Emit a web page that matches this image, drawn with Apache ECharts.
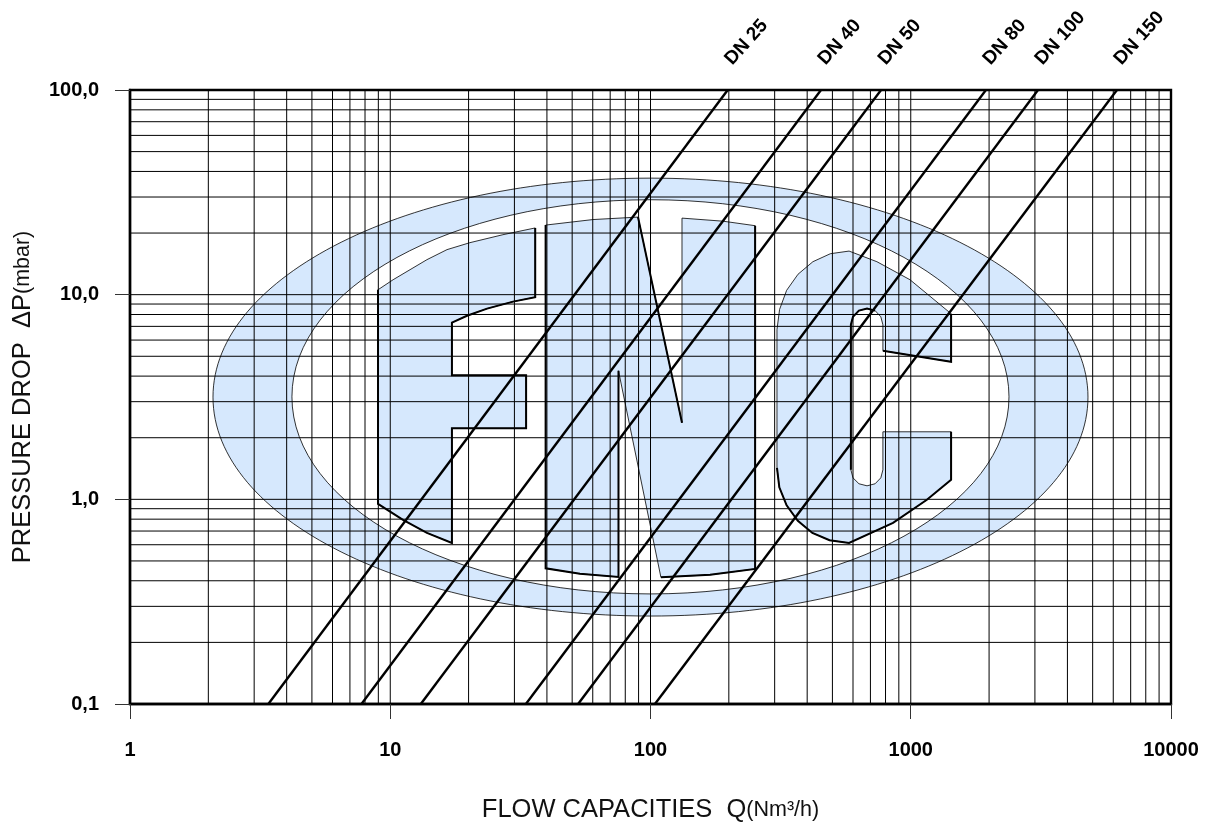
<!DOCTYPE html>
<html><head><meta charset="utf-8">
<style>html,body{margin:0;padding:0;background:#fff}#c{width:1208px;height:825px}</style>
<script src="https://cdn.jsdelivr.net/npm/echarts@6/dist/echarts.min.js"></script>
</head><body><div id="c"></div>
<script>
const xTickLabels = {1:'1',10:'10',100:'100',1000:'1000',10000:'10000'};
const yTickLabels = {0.1:'0,1',1:'1,0',10:'10,0',100:'100,0'};
const gridQ = [2,3,4,5,6,7,8,9,10,20,30,40,50,60,70,80,90,100,200,300,400,500,600,700,800,900,1000,2000,3000,4000,5000,6000,7000,8000,9000];
const gridP = [0.2,0.3,0.4,0.5,0.6,0.7,0.8,0.9,1,2,3,4,5,6,7,8,9,10,20,30,40,50,60,70,80,90];
const dnNames = ['DN 25','DN 40','DN 50','DN 80','DN 100','DN 150'];
const dnQAtBottom = [3.4,7.75,13.1,33.2,52.7,104];
const dnQAtTop = [198,452,769,1945,3083,6199];
const pBottom = 0.1, pTop = 100;
// logo rings: [minQ, maxQ, minP, maxP]
const ringOuter = [2.084,4797,0.269,37.1];
const ringInner = [4.19,2385,0.345,29.1];
// logo letters as [log10 Q, log10 P]
const letterF = [[.953,1.024],[1.011,1.073],[1.076,1.122],[1.141,1.171],[1.218,1.220],[1.306,1.254],[1.433,1.293],[1.557,1.326],[1.557,.988],[1.472,.966],[1.372,.932],[1.295,.897],[1.237,.863],[1.237,.606],[1.522,.606],[1.522,.347],[1.237,.347],[1.237,-.213],[1.141,-.164],[1.049,-.100],[.953,-.022]];
const letterN = [[1.597,1.340],[1.779,1.367],[1.952,1.379],[2.121,.374],[2.121,1.374],[2.279,1.359],[2.402,1.337],[2.402,-.340],[2.229,-.369],[2.040,-.381],[1.877,.628],[1.877,-.379],[1.729,-.364],[1.597,-.337]];
const letterC = [[2.763,1.213],[2.691,1.200],[2.624,1.161],[2.567,1.100],[2.523,1.021],[2.496,.928],[2.486,.829],[2.486,.154],[2.495,.059],[2.523,-.029],[2.566,-.105],[2.622,-.164],[2.688,-.200],[2.763,-.213],[2.932,-.115],[3.062,-.002],[3.155,.095],[3.155,.330],[2.893,.330],[2.893,.144],[2.885,.105],[2.863,.076],[2.832,.066],[2.801,.076],[2.778,.105],[2.770,.144],[2.770,.853],[2.778,.892],[2.801,.922],[2.832,.932],[2.863,.922],[2.885,.892],[2.893,.853],[2.893,.726],[3.155,.672],[3.155,.907],[2.997,1.073],[2.870,1.161]];
const heavyStrokes = [
 [[1.557,1.326],[1.557,.988],[1.472,.966],[1.372,.932],[1.295,.897],[1.237,.863],[1.237,.606],[1.522,.606],[1.522,.347],[1.237,.347],[1.237,-.213],[1.141,-.164],[1.049,-.100],[.953,-.022],[.953,1.024]],
 [[1.952,1.379],[2.121,.374]],
 [[1.877,.628],[1.877,-.379],[1.729,-.364],[1.597,-.337],[1.597,1.340]],
 [[2.402,1.337],[2.402,-.340],[2.229,-.369],[2.040,-.381]],
 [[2.486,.154],[2.495,.059],[2.523,-.029],[2.566,-.105],[2.622,-.164],[2.688,-.200],[2.763,-.213],[2.932,-.115],[3.062,-.002],[3.155,.095],[3.155,.330]],
 [[2.770,.144],[2.770,.853],[2.778,.892],[2.801,.922],[2.832,.932],[2.863,.922]],
 [[2.893,.726],[3.155,.672],[3.155,.907]]
];
const logoBlue = '#d6e8fd';
const ink = '#000';
const toData = p => [Math.pow(10,p[0]), Math.pow(10,p[1])];

function ringItem(r, fill){
  return function(params, api){
    const a = api.coord([r[0], r[3]]), b = api.coord([r[1], r[2]]);
    return {type:'ellipse', shape:{cx:(a[0]+b[0])/2, cy:(a[1]+b[1])/2, rx:(b[0]-a[0])/2, ry:(b[1]-a[1])/2},
      style:{fill:fill, stroke:ink, lineWidth:0.8}};
  };
}
const fixed = {type:'custom', coordinateSystem:'cartesian2d', silent:true, clip:false, animation:false};
const series = [
 Object.assign({}, fixed, {name:'ring outer', data:[[1,1]], renderItem:ringItem(ringOuter, logoBlue)}),
 Object.assign({}, fixed, {name:'ring inner', data:[[1,1]], renderItem:ringItem(ringInner, '#fff')}),
 Object.assign({}, fixed, {name:'letters', data:[[1,1]], renderItem:function(params, api){
   const pts = l => l.map(p => api.coord(toData(p)));
   const children = [letterF, letterN, letterC].map(l => ({type:'polygon', shape:{points:pts(l)}, style:{fill:logoBlue, stroke:ink, lineWidth:0.8}}));
   heavyStrokes.forEach(l => children.push({type:'polyline', shape:{points:pts(l)}, style:{fill:null, stroke:ink, lineWidth:2}}));
   return {type:'group', children};
 }}),
 Object.assign({}, fixed, {name:'grid Q', data:gridQ.map(v=>[v,1]), renderItem:function(params, api){
   const v = api.value(0), a = api.coord([v,pBottom]), b = api.coord([v,pTop]);
   return {type:'line', shape:{x1:a[0],y1:a[1],x2:b[0],y2:b[1]}, style:{stroke:ink, lineWidth:1}};
 }}),
 Object.assign({}, fixed, {name:'grid P', data:gridP.map(v=>[1,v]), renderItem:function(params, api){
   const v = api.value(1), a = api.coord([1,v]), b = api.coord([10000,v]);
   return {type:'line', shape:{x1:a[0],y1:a[1],x2:b[0],y2:b[1]}, style:{stroke:ink, lineWidth:1}};
 }})
];
dnNames.forEach((n,i)=>{
  series.push({type:'line', name:n, silent:true, animation:false, showSymbol:false, symbol:'none', clip:false,
    lineStyle:{color:ink, width:2.4},
    data:[[dnQAtBottom[i],pBottom],[dnQAtTop[i],pTop]],
    endLabel:{show:true, formatter:n, rotate:48, align:'left', verticalAlign:'middle', distance:0, offset:[21,-18],
      color:ink, fontFamily:'Liberation Sans', fontWeight:'bold', fontSize:19}
  });
});
const tickStyle = {show:true, length:15, inside:false, lineStyle:{color:'#333', width:1}};
const labelStyle = {fontFamily:'Liberation Sans', fontWeight:'bold', fontSize:20, color:ink};
const richName = {a:{fontFamily:'Liberation Sans', fontSize:25.5, color:'#111'}, b:{fontFamily:'Liberation Sans', fontSize:21.5, color:'#111'}};
const chart = echarts.init(document.getElementById('c'), null, {renderer:'canvas'});
chart.setOption({
  animation:false, backgroundColor:'#fff',
  grid:{left:130, right:37, top:90, bottom:121, show:true, borderColor:ink, borderWidth:2.4, backgroundColor:'transparent', containLabel:false, outerBoundsMode:'none'},
  xAxis:{type:'log', logBase:10, min:1, max:10000, splitLine:{show:false}, minorTick:{show:false}, axisTick:tickStyle,
    axisLine:{show:true, lineStyle:{color:ink, width:2.4}},
    axisLabel:Object.assign({margin:36, showMinLabel:true, showMaxLabel:true, formatter:v=>xTickLabels[Math.round(v)]||''}, labelStyle),
    name:'{a|FLOW CAPACITIES  Q}{b|(Nm³/h)}', nameLocation:'middle', nameGap:93,
    nameTextStyle:{rich:richName}},
  yAxis:{type:'log', logBase:10, min:0.1, max:100, splitLine:{show:false}, minorTick:{show:false}, axisTick:tickStyle,
    axisLine:{show:true, lineStyle:{color:ink, width:2.4}},
    axisLabel:Object.assign({margin:31, showMinLabel:true, showMaxLabel:true, formatter:v=>yTickLabels[+(+v).toPrecision(2)]||''}, labelStyle),
    name:'{a|PRESSURE DROP  ΔP}{b|(mbar)}', nameLocation:'middle', nameGap:94,
    nameTextStyle:{rich:richName}},
  series
});
</script></body></html>
